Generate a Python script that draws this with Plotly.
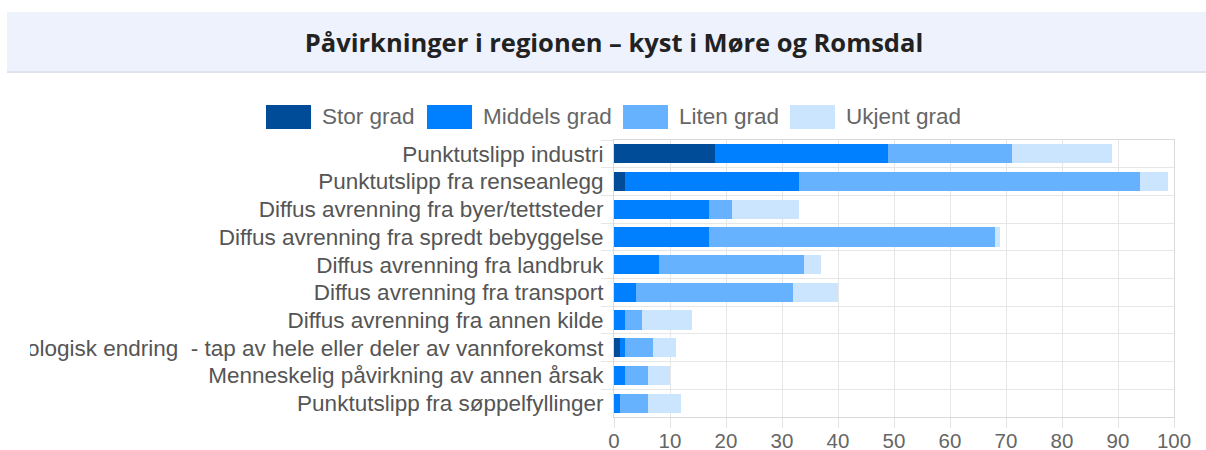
import plotly.graph_objects as go

W, H = 1206, 450
PL, PR, PT, PB = 614, 1174, 140, 417  # plot area in pixels

categories = [
    "Punktutslipp industri",
    "Punktutslipp fra renseanlegg",
    "Diffus avrenning fra byer/tettsteder",
    "Diffus avrenning fra spredt bebyggelse",
    "Diffus avrenning fra landbruk",
    "Diffus avrenning fra transport",
    "Diffus avrenning fra annen kilde",
    "Hydrologisk endring  - tap av hele eller deler av vannforekomst",
    "Menneskelig påvirkning av annen årsak",
    "Punktutslipp fra søppelfyllinger",
]
series_names = ["Stor grad", "Middels grad", "Liten grad", "Ukjent grad"]
stor_grad = [18, 2, 0, 0, 0, 0, 0, 1, 0, 0]
middels_grad = [31, 31, 17, 17, 8, 4, 2, 1, 2, 1]
liten_grad = [22, 61, 4, 51, 26, 28, 3, 5, 4, 5]
ukjent_grad = [18, 5, 12, 1, 3, 8, 9, 4, 4, 6]
x_ticks = [0, 10, 20, 30, 40, 50, 60, 70, 80, 90, 100]
title_text = "Påvirkninger i regionen – kyst i Møre og Romsdal"

colors = ["#004C99", "#0080FF", "#66B2FF", "#CCE5FF"]
series_values = [stor_grad, middels_grad, liten_grad, ukjent_grad]


def px_x(x):
    return (x - PL) / (PR - PL)


def px_y(y):
    return (PB - y) / (PB - PT)


fig = go.Figure()
for name, vals, col in zip(series_names, series_values, colors):
    fig.add_trace(go.Bar(
        y=categories, x=vals, name=name, orientation="h",
        marker=dict(color=col, line=dict(width=0)),
        showlegend=False,
    ))

shapes = []
annotations = []
# title band
shapes.append(dict(type="rect", xref="paper", yref="paper",
                   x0=px_x(7), x1=px_x(1206), y0=px_y(71), y1=px_y(12),
                   fillcolor="#EEF2FD", line=dict(width=0), layer="below"))
shapes.append(dict(type="line", xref="paper", yref="paper",
                   x0=px_x(7), x1=px_x(1206), y0=px_y(72), y1=px_y(72),
                   line=dict(color="#DDE2EE", width=2), layer="below"))
# left clipping edge of the container (cuts the long category label)
shapes.append(dict(type="rect", xref="paper", yref="paper",
                   x0=px_x(-5), x1=px_x(30), y0=px_y(362), y1=px_y(332),
                   fillcolor="white", line=dict(width=0), layer="above"))

# manual legend
legend_x = [266, 427, 623, 790]
for lx, name, col in zip(legend_x, series_names, colors):
    shapes.append(dict(type="rect", xref="paper", yref="paper",
                       x0=px_x(lx), x1=px_x(lx + 45), y0=px_y(129), y1=px_y(105),
                       fillcolor=col, line=dict(width=0)))
    annotations.append(dict(text=name, xref="paper", yref="paper",
                            x=px_x(lx + 54), y=px_y(117), xanchor="left", yanchor="middle",
                            showarrow=False,
                            font=dict(family="Liberation Sans, Arial", size=22.5, color="#666666")))

fig.update_layout(
    width=W, height=H,
    barmode="stack", bargap=0.31,
    margin=dict(l=PL, r=W - PR, t=PT, b=H - PB, autoexpand=False),
    paper_bgcolor="white", plot_bgcolor="white",
    title=dict(text="<b>" + title_text + "</b>", x=614 / W, xanchor="center",
               y=1 - 43 / H, yanchor="middle",
               font=dict(family="Open Sans", size=25.5, color="#222222")),
    shapes=shapes, annotations=annotations,
    xaxis=dict(range=[0, 100], tickvals=x_ticks, ticks="outside", ticklen=10,
               tickcolor="#E3E3E3", gridcolor="#E6E6E6", gridwidth=1,
               showline=True, linecolor="#D9D9D9", mirror=True, zeroline=False,
               ticklabelstandoff=-5,
               tickfont=dict(family="Liberation Sans, Arial", size=20.5, color="#666666")),
    yaxis=dict(autorange="reversed", type="category", tickson="boundaries",
               ticks="outside", ticklen=12, tickcolor="#E6E6E6",
               showgrid=True, gridcolor="#E6E6E6",
               showline=True, linecolor="#D9D9D9", mirror=True,
               ticklabelstandoff=5,
               tickfont=dict(family="Liberation Sans, Arial", size=22.5, color="#555555")),
)

fig.write_html("out.html", config={"displayModeBar": False},
               post_script="document.body.style.margin='0';document.body.style.overflow='hidden';")
